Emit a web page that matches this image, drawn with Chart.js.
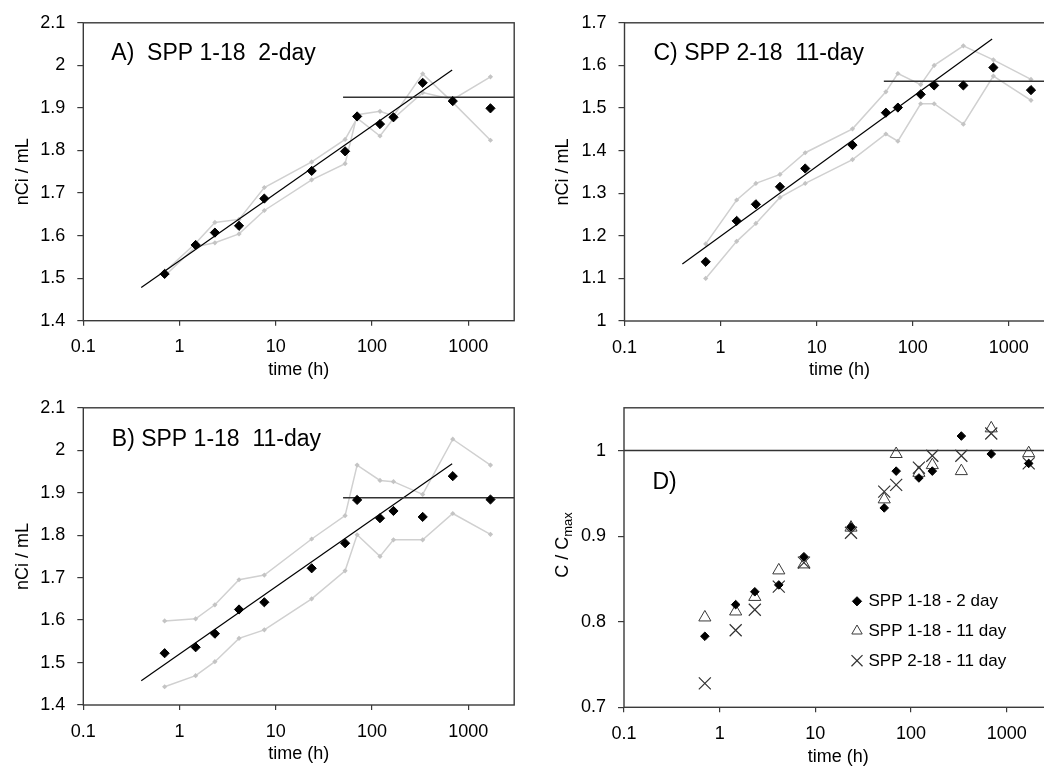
<!DOCTYPE html>
<html>
<head>
<meta charset="utf-8">
<title>SPP nCi/mL vs time</title>
<script src="https://cdn.jsdelivr.net/npm/chart.js@4.4.1/dist/chart.umd.min.js"></script>
<style>
  html, body { margin:0; padding:0; width:1044px; height:770px; overflow:hidden; background:#fff; }
  canvas { position:absolute; display:block; }
</style>
</head>
<body>
<canvas id="chartA" width="522" height="385" style="left:0;top:0;width:522px;height:385px"></canvas>
<canvas id="chartB" width="522" height="385" style="left:0;top:385px;width:522px;height:385px"></canvas>
<canvas id="chartC" width="540" height="385" style="left:522px;top:0;width:540px;height:385px"></canvas>
<canvas id="chartD" width="540" height="385" style="left:522px;top:385px;width:540px;height:385px"></canvas>
<script>
// ---------------- data ----------------
const timeH = [0.7, 1.47, 2.33, 4.15, 7.6, 23.6, 52.5, 70, 121, 167, 336, 690, 1700];
const xTickValues = [0.1, 1, 10, 100, 1000];
const yTicksAB = [1.4, 1.5, 1.6, 1.7, 1.8, 1.9, 2, 2.1];
const yTicksC = [1, 1.1, 1.2, 1.3, 1.4, 1.5, 1.6, 1.7];
const yTicksD = [0.7, 0.8, 0.9, 1];

// Panel A: SPP 1-18, 2-day
const aMean = [1.510, 1.578, 1.607, 1.623, 1.687, 1.752, 1.798, 1.880, 1.862, 1.878, 1.959, 1.916, 1.899];
const aRep1 = [1.515, 1.582, 1.631, 1.638, 1.713, 1.773, 1.826, 1.876, 1.834, 1.875, 1.936, 1.920, 1.973];
const aRep2 = [1.505, 1.574, 1.583, 1.604, 1.659, 1.731, 1.769, 1.884, 1.892, 1.881, 1.980, 1.913, 1.824];
const aFitT = [0.4, 680];
const aFitY = [1.478, 1.989];
const aPlateauT = [50, 3000];
const aPlateauY = [1.925, 1.925];

// Panel B: SPP 1-18, 11-day
const bMean = [1.522, 1.536, 1.568, 1.625, 1.642, 1.722, 1.781, 1.883, 1.840, 1.857, 1.843, 1.939, 1.884];
const bRep1 = [1.598, 1.603, 1.636, 1.695, 1.706, 1.791, 1.846, 1.965, 1.929, 1.926, 1.896, 2.026, 1.965];
const bRep2 = [1.443, 1.469, 1.502, 1.557, 1.577, 1.650, 1.716, 1.801, 1.750, 1.789, 1.789, 1.851, 1.802];
const bFitT = [0.4, 680];
const bFitY = [1.457, 1.968];
const bPlateauT = [50, 3000];
const bPlateauY = [1.888, 1.888];

// Panel C: SPP 2-18, 11-day
const cMean = [1.139, 1.235, 1.274, 1.315, 1.358, 1.413, 1.489, 1.501, 1.532, 1.553, 1.553, 1.595, 1.542];
const cRep1 = [1.181, 1.284, 1.323, 1.344, 1.395, 1.451, 1.538, 1.581, 1.555, 1.600, 1.646, 1.613, 1.567];
const cRep2 = [1.100, 1.187, 1.229, 1.290, 1.323, 1.379, 1.439, 1.422, 1.510, 1.510, 1.462, 1.575, 1.518];
const cFitT = [0.4, 670];
const cFitY = [1.134, 1.662];
const cPlateauT = [50, 3000];
const cPlateauY = [1.563, 1.563];

// Panel D: C / Cmax
const d2day = [0.783, 0.820, 0.835, 0.843, 0.876, 0.911, 0.933, 0.976, 0.968, 0.976, 1.017, 0.996, 0.985];
const d11day = [0.805, 0.812, 0.829, 0.860, 0.867, 0.910, 0.943, 0.996, 0.974, 0.983, 0.976, 1.026, 0.997];
const d218day = [0.728, 0.790, 0.814, 0.841, 0.869, 0.904, 0.952, 0.960, 0.980, 0.994, 0.994, 1.020, 0.985];
const dRefT = [0.1, 3000];
const dRefY = [1, 1];

// ---------------- styling / helpers ----------------
const FONT = "'Liberation Sans', Arial, Helvetica, sans-serif";
const AXIS = '#3a3a3a';

const pts = (xs, ys) => xs.map((x, i) => ({ x: x, y: ys[i] }));
const fmt = v => String(Math.round(v * 100) / 100);

const panelFrame = {
  id: 'panelFrame',
  afterDraw(chart, args, o) {
    const { ctx, chartArea: a } = chart;
    ctx.save();
    ctx.strokeStyle = AXIS;
    ctx.lineWidth = 1.4;
    ctx.strokeRect(a.left, a.top, a.right - a.left, a.bottom - a.top);
    if (o.label) {
      ctx.fillStyle = '#000';
      ctx.font = '23px ' + FONT;
      ctx.textAlign = 'left';
      ctx.textBaseline = 'alphabetic';
      ctx.fillText(o.label, a.left + o.dx, a.top + o.dy);
    }
    ctx.restore();
  }
};

const legendD = {
  id: 'legendD',
  afterDraw(chart, args, o) {
    const { ctx, chartArea: a } = chart;
    ctx.save();
    o.items.forEach((idx, k) => {
      const ds = chart.data.datasets[idx];
      const x = a.left + o.dx, y = a.top + o.dy + k * o.gap;
      const st = ds.pointStyle, r = o.radii[k];
      ctx.beginPath();
      ctx.lineWidth = ds.pointBorderWidth;
      ctx.strokeStyle = ds.pointBorderColor;
      ctx.fillStyle = ds.pointBackgroundColor;
      if (st === 'rectRot') {
        ctx.moveTo(x - r, y); ctx.lineTo(x, y - r); ctx.lineTo(x + r, y); ctx.lineTo(x, y + r); ctx.closePath();
        ctx.fill(); ctx.stroke();
      } else if (st === 'triangle') {
        ctx.moveTo(x, y - r); ctx.lineTo(x + 0.866 * r, y + 0.5 * r); ctx.lineTo(x - 0.866 * r, y + 0.5 * r); ctx.closePath();
        ctx.stroke();
      } else {
        const q = r * 0.7071;
        ctx.moveTo(x - q, y - q); ctx.lineTo(x + q, y + q);
        ctx.moveTo(x + q, y - q); ctx.lineTo(x - q, y + q);
        ctx.stroke();
      }
      ctx.fillStyle = '#000';
      ctx.font = '17px ' + FONT;
      ctx.textAlign = 'left';
      ctx.textBaseline = 'middle';
      ctx.fillText(ds.label, x + o.textGap, y + 0.5);
    });
    ctx.restore();
  }
};

const yTitleD = {
  id: 'yTitleD',
  afterDraw(chart, args, o) {
    const { ctx } = chart;
    ctx.save();
    ctx.translate(o.x, o.y);
    ctx.rotate(-Math.PI / 2);
    ctx.fillStyle = '#000';
    ctx.textBaseline = 'middle';
    ctx.textAlign = 'left';
    ctx.font = '18px ' + FONT;
    const w1 = ctx.measureText(o.main).width;
    ctx.font = '13px ' + FONT;
    const w2 = ctx.measureText(o.sub).width;
    const x0 = -(w1 + w2) / 2;
    ctx.font = '18px ' + FONT;
    ctx.fillText(o.main, x0, 0);
    ctx.font = '13px ' + FONT;
    ctx.fillText(o.sub, x0 + w1, 5);
    ctx.restore();
  }
};

function nciDatasets(mean, rep1, rep2, fitT, fitY, platT, platY) {
  const grey = (data) => ({
    label: 'replicate', data: data, showLine: true, borderColor: '#d0d0d0', borderWidth: 1.5,
    pointStyle: 'rectRot', pointRadius: 2.6, pointBackgroundColor: '#c4c4c4', pointBorderWidth: 0, tension: 0
  });
  return [
    { label: 'mean', data: pts(timeH, mean), showLine: false, pointStyle: 'rectRot', pointRadius: 4.6,
      pointBackgroundColor: '#000', pointBorderColor: '#000', pointBorderWidth: 1 },
    { label: 'plateau', data: pts(platT, platY), showLine: true, borderColor: '#333', borderWidth: 1.5, pointRadius: 0 },
    { label: 'fit', data: pts(fitT, fitY), showLine: true, borderColor: '#000', borderWidth: 1.2, pointRadius: 0 },
    grey(pts(timeH, rep1)),
    grey(pts(timeH, rep2))
  ];
}

function makePanel(id, p) {
  const xScale = {
    type: 'logarithmic', min: 0.1, max: 3000,
    afterBuildTicks: s => { s.ticks = xTickValues.map(v => ({ value: v })); },
    afterFit: s => { s.height = p.xH; },
    ticks: { callback: v => fmt(v), font: { family: FONT, size: 18 }, color: '#000', padding: 11, autoSkip: false, maxRotation: 0 },
    grid: { display: true, drawOnChartArea: false, drawTicks: true, tickLength: 5, color: AXIS, lineWidth: 1.2 },
    border: { display: false },
    title: { display: true, text: 'time (h)', font: { family: FONT, size: 18 }, color: '#000', padding: { top: 0, bottom: p.xTitlePad } }
  };
  const yScale = {
    type: 'linear', min: p.yMin, max: p.yMax,
    afterBuildTicks: s => { s.ticks = p.yTicks.map(v => ({ value: v })); },
    afterFit: s => { s.width = p.yW; },
    ticks: { callback: v => fmt(v), font: { family: FONT, size: 18 }, color: '#000', padding: 12 },
    grid: { display: true, drawOnChartArea: false, drawTicks: true, tickLength: 6, color: AXIS, lineWidth: 1.2 },
    border: { display: false },
    title: { display: !!p.yTitle, text: p.yTitle || '', font: { family: FONT, size: 18 }, color: '#000', padding: { top: p.yTitlePad, bottom: 0 } }
  };
  const pluginOpts = {
    legend: { display: false },
    tooltip: { enabled: false },
    panelFrame: { label: p.label, dx: p.dx, dy: p.dy }
  };
  Object.assign(pluginOpts, p.pluginOpts || {});
  return new Chart(document.getElementById(id), {
    type: 'scatter',
    data: { datasets: p.datasets },
    options: {
      responsive: false, animation: false, devicePixelRatio: 1,
      layout: { padding: { left: 0, top: p.padTop, right: p.padRight, bottom: 0 } },
      plugins: pluginOpts,
      scales: { x: xScale, y: yScale }
    },
    plugins: [panelFrame].concat(p.extra || [])
  });
}

makePanel('chartA', {
  datasets: nciDatasets(aMean, aRep1, aRep2, aFitT, aFitY, aPlateauT, aPlateauY),
  yMin: 1.4, yMax: 2.1, yTicks: yTicksAB, yTitle: 'nCi / mL', yTitlePad: 12.7,
  padTop: 19.3, padRight: 7.8, yW: 83.3, xH: 64.3, xTitlePad: 4,
  label: 'A)  SPP 1-18  2-day', dx: 28, dy: 37.5
});

makePanel('chartB', {
  datasets: nciDatasets(bMean, bRep1, bRep2, bFitT, bFitY, bPlateauT, bPlateauY),
  yMin: 1.4, yMax: 2.1, yTicks: yTicksAB, yTitle: 'nCi / mL', yTitlePad: 12.2,
  padTop: 19, padRight: 7.8, yW: 83.3, xH: 65, xTitlePad: 4.7,
  label: 'B) SPP 1-18  11-day', dx: 28.5, dy: 38
});

makePanel('chartC', {
  datasets: nciDatasets(cMean, cRep1, cRep2, cFitT, cFitY, cPlateauT, cPlateauY),
  yMin: 1, yMax: 1.7, yTicks: yTicksC, yTitle: 'nCi / mL', yTitlePad: 30.2,
  padTop: 19.3, padRight: 7.3, yW: 102.5, xH: 64, xTitlePad: 3.7,
  label: 'C) SPP 2-18  11-day', dx: 29, dy: 37.5
});

makePanel('chartD', {
  datasets: [
    { label: 'SPP 1-18 - 2 day', data: pts(timeH, d2day), showLine: false, pointStyle: 'rectRot', pointRadius: 4.3,
      pointBackgroundColor: '#000', pointBorderColor: '#000', pointBorderWidth: 1 },
    { label: 'SPP 1-18 - 11 day', data: pts(timeH, d11day), showLine: false, pointStyle: 'triangle', pointRadius: 7,
      pointBackgroundColor: 'rgba(255,255,255,0)', pointBorderColor: '#3a3a3a', pointBorderWidth: 1 },
    { label: 'SPP 2-18 - 11 day', data: pts(timeH, d218day), showLine: false, pointStyle: 'crossRot', pointRadius: 8.5,
      pointBackgroundColor: 'rgba(0,0,0,0)', pointBorderColor: '#333', pointBorderWidth: 1.2 },
    { label: 'reference', data: pts(dRefT, dRefY), showLine: true, borderColor: '#333', borderWidth: 1.5, pointRadius: 0 }
  ],
  yMin: 0.7, yMax: 1.05, yTicks: yTicksD, yTitle: '', yTitlePad: 0,
  padTop: 19, padRight: 7.3, yW: 102, xH: 62.7, xTitlePad: 2.4,
  label: 'D)', dx: 28.4, dy: 81,
  extra: [legendD, yTitleD],
  pluginOpts: {
    legendD: { items: [0, 1, 2], dx: 233, dy: 193.5, gap: 29.7, radii: [4.6, 6, 7.8], textGap: 11.5 },
    yTitleD: { main: 'C / C', sub: 'max', x: 41, y: 160 }
  }
});
</script>
</body>
</html>
